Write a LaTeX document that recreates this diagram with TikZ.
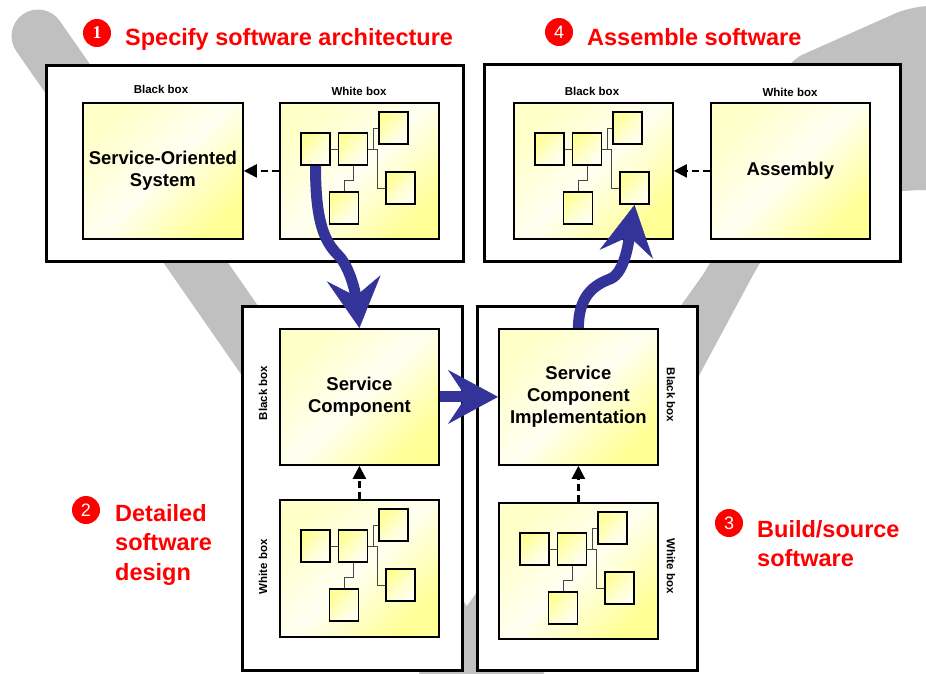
\documentclass[tikz,border=0pt]{standalone}
\usepackage{fontspec}
\setmainfont{Liberation Sans}
\newfontfamily\serifnum{Liberation Serif}
\usetikzlibrary{arrows.meta}

\definecolor{vgrey}{RGB}{192,192,192}
\definecolor{flowblue}{RGB}{51,51,153}
\definecolor{titlered}{RGB}{255,0,0}
\definecolor{paleyellow}{RGB}{255,255,200}
\definecolor{lightyellow}{RGB}{255,255,242}
\definecolor{deepyellow}{RGB}{255,255,150}
\definecolor{linkgrey}{RGB}{70,70,70}

\tikzset{
  panel/.style={draw=black, line width=3pt, fill=white, inner sep=0pt, anchor=north west},
  yellowbox/.style={draw=black, line width=1.8pt, inner sep=0pt, anchor=north west,
    minimum width=159pt, minimum height=136pt,
    top color=paleyellow, bottom color=deepyellow, middle color=lightyellow, shading angle=45,
    align=center, font=\fontsize{18.5}{22}\selectfont\bfseries},
  minibox/.style={draw=black, line width=1.8pt, inner sep=0pt,
    minimum width=29pt, minimum height=32pt,
    top color=deepyellow, bottom color=lightyellow, middle color=paleyellow, shading angle=45},
  minilink/.style={draw=linkgrey, line width=1pt},
  tag/.style={font=\fontsize{11.5}{13}\selectfont\bfseries, inner sep=0pt},
  titletext/.style={font=\fontsize{23.5}{29.5}\selectfont\bfseries, text=titlered, inner sep=0pt},
  numdot/.style={circle, fill=titlered, minimum size=28pt, inner sep=0pt, text=white,
    font=\fontsize{18}{18}\selectfont},
  dashlink/.style={draw=black, line width=2.2pt, dash pattern=on 7pt off 4pt,
    -{Triangle[length=13pt, width=13pt]}},
  flowarrow/.style={draw=flowblue, line width=11pt,
    -{Stealth[length=50pt, width=54pt, inset=18pt, line width=0.5pt]}},
  mininet/.pic={
    \node[minibox] (-a) at (36.5,47) {};
    \node[minibox] (-b) at (74,47) {};
    \node[minibox] (-c) at (114.5,26) {};
    \node[minibox] (-d) at (121.5,86) {};
    \node[minibox] (-e) at (65,106) {};
    \draw[minilink] (-a.east) -- (-b.west);
    \draw[minilink] (-b.east) -- ++(5,0) |- (-c.west);
    \draw[minilink] (-b.east) -- ++(9,0) |- (-d.west);
    \draw[minilink] (-b.south) -- ++(0,15) -| (-e.north);
  }
}

\begin{document}
\begin{tikzpicture}[x=1pt, y=-1pt]
\useasboundingbox (0,0) rectangle (926,673);
\clip (0,0) rectangle (926,673);

% grey V in the background
\draw[vgrey, line width=53pt, line cap=round] (38,36) -- (493,690);
\fill[vgrey, rounded corners=18pt] (400,700) -- (712,262) -- (782,80) -- (786,62)
  -- (912,6) -- (990,6) -- (990,190) -- (912,190) -- (800,200)
  -- (760,262) -- (702,370) -- (530,700) -- cycle;

% outer panels
\node[panel, minimum width=417pt, minimum height=196pt] (p1) at (45,64) {};
\node[panel, minimum width=416pt, minimum height=197pt] (p4) at (483,63) {};
\node[panel, minimum width=220pt, minimum height=364pt] (p2) at (241,305) {};
\node[panel, minimum width=220pt, minimum height=364pt] (p3) at (476,305) {};

% step 1: architecture
\node[yellowbox, minimum width=160pt] (sos) at (82,102) {Service-Oriented\\System};
\node[yellowbox] (tlwhite) at (279,102) {};
\pic (tlw) at (tlwhite.north west) {mininet};
\node[tag] (l1b) at (161,89) {Black box};
\node[tag] (l1w) at (359,91) {White box};
\draw[dashlink] (tlwhite.west) -- (sos.east);

% step 4: assembly
\node[yellowbox] (trblack) at (513,102) {};
\pic (trb) at (trblack.north west) {mininet};
\node[yellowbox] (asm) at (710,102) {Assembly};
\node[tag] (l4b) at (592,91) {Black box};
\node[tag] (l4w) at (790,92) {White box};
\draw[dashlink] (asm.west) -- (trblack.east);

% step 2: detailed design
\node[yellowbox] (sc) at (279,328) {Service\\Component};
\node[yellowbox, minimum height=137pt] (llwhite) at (279,499) {};
\pic (llw) at (llwhite.north west) {mininet};
\node[tag, rotate=90] (l2b) at (263,393) {Black box};
\node[tag, rotate=90] (l2w) at (263,567) {White box};
\draw[dashlink] (llwhite.north) -- (sc.south);

% step 3: build
\node[yellowbox] (sci) at (498,328) {Service\\Component\\Implementation};
\node[yellowbox] (lrwhite) at (498,502) {};
\pic (lrw) at (lrwhite.north west) {mininet};
\node[tag, rotate=-90] (l3b) at (671,395) {Black box};
\node[tag, rotate=-90] (l3w) at (671,566) {White box};
\draw[dashlink] (lrwhite.north) -- (sci.south);

% flow between the steps
\draw[flowarrow] (tlw-a.south) .. controls +(0,55) and +(-14,-14) .. (338,255)
  .. controls +(12,12) and +(-4,-35) .. (sc.north);
\draw[flowarrow] (sc.east) -- (sci.west);
\draw[flowarrow] (sci.north) .. controls +(0,-32) and +(-16,6) .. (610,279)
  .. controls +(16,-6) and +(-5,30) .. (trb-d.south);

% step titles
\node[numdot] (n1) at (97,33) {\serifnum\bfseries 1};
\node[titletext, anchor=base west] (t1) at (125,45) {Specify software architecture};
\node[numdot] (n4) at (559,32) {4};
\node[titletext, anchor=base west] (t4) at (587,45) {Assemble software};
\node[numdot] (n2) at (86,510) {2};
\node[titletext, anchor=north west, align=left] (t2) at (115,504) {Detailed\\software\\design};
\node[numdot] (n3) at (729,523) {3};
\node[titletext, anchor=north west, align=left] (t3) at (757,520) {Build/source\\software};
\end{tikzpicture}
\end{document}
